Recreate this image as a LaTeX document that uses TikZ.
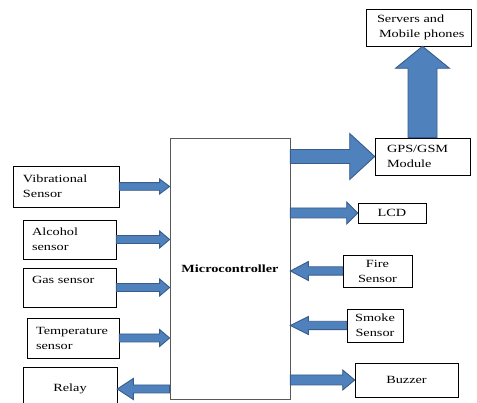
\documentclass[tikz,border=0pt]{standalone}
\usepackage{fontspec}
\setmainfont[FakeStretch=1.3]{Liberation Serif}
\usetikzlibrary{calc}
\definecolor{arrfill}{HTML}{4F81BD}
\definecolor{arrline}{HTML}{385D8A}
% #1 from, #2 to, #3 shaft half width, #4 head half width, #5 head length
\newcommand\barrow[5]{%
  \coordinate (ba) at (#1);
  \coordinate (bb) at (#2);
  \coordinate (bh) at ($(bb)!#5!(ba)$);
  \filldraw[blockarrow] ($(ba)!#3!90:(bb)$) -- ($(bh)!#3!-90:(ba)$) -- ($(bh)!#4!-90:(ba)$) -- (bb)
    -- ($(bh)!#4!90:(ba)$) -- ($(bh)!#3!90:(ba)$) -- ($(ba)!#3!-90:(bb)$) -- cycle;
}
\begin{document}
\begin{tikzpicture}[x=1pt,y=-1pt,
  box/.style={draw=black,line width=0.6pt,inner ysep=0pt,align=left,font=\fontsize{11}{15}\selectfont},
  cbox/.style={box,align=center},
  mcbox/.style={draw=gray!70!black,line width=0.8pt,font=\fontsize{11}{15}\selectfont\bfseries},
  blockarrow/.style={fill=arrfill,draw=arrline,line width=0.9pt,line join=miter}]
\clip (0,0) rectangle (477,403);
\fill[white] (0,0) rectangle (477,403);
% left side
\node[box,text width=86pt,inner xsep=10pt,minimum height=41pt] (vib) at (66,186.5) {\mbox{Vibrational}\\Sensor};
\node[box,text width=75pt,inner xsep=9pt,minimum height=39pt] (alc) at (69.5,239.5) {Alcohol\\sensor};
\node[box,text width=75pt,inner xsep=9pt,minimum height=39pt] (gas) at (69.5,287.5) {\mbox{Gas sensor}\\\mbox{}};
\node[box,text width=74pt,inner xsep=9pt,minimum height=40pt] (temp) at (73,338) {\mbox{Temperature}\\sensor};
\node[cbox,minimum width=94pt,minimum height=44pt] (relay) at (70,389) {Relay};
% microcontroller
\node[mcbox,minimum width=120pt,minimum height=261pt] (mc) at (230,268.5) {Microcontroller};
% right side
\node[box,text width=83pt,inner xsep=11pt,minimum height=37pt] (srv) at (418.5,27.5) {\mbox{Servers and}\\\mbox{\hspace{2pt}Mobile phones}};
\node[box,text width=71pt,inner xsep=12pt,minimum height=37pt] (gps) at (422.5,156.5) {GPS/GSM\\Module};
\node[cbox,minimum width=68pt,minimum height=20pt] (lcd) at (392,213) {LCD};
\node[cbox,minimum width=69pt,minimum height=32pt] (fire) at (377.5,271) {Fire\\Sensor};
\node[cbox,minimum width=56pt,minimum height=33pt] (smoke) at (375,325.5) {Smoke\\Sensor};
\node[cbox,minimum width=103pt,minimum height=34pt] (buzz) at (406.5,380) {Buzzer};
% arrows
\barrow{vib.east}{vib.east -| mc.west}{3.8pt}{7.5pt}{10pt}
\barrow{alc.east}{alc.east -| mc.west}{4pt}{8.5pt}{10pt}
\barrow{gas.east}{gas.east -| mc.west}{4pt}{8.5pt}{10pt}
\barrow{temp.east}{temp.east -| mc.west}{4pt}{8.5pt}{10pt}
\barrow{relay.east -| mc.west}{relay.east}{4pt}{10.5pt}{16pt}
\barrow{mc.east |- gps.west}{gps.west}{7pt}{23pt}{25pt}
\barrow{gps.north}{gps.north |- srv.south}{14.5pt}{27pt}{22pt}
\barrow{mc.east |- lcd.west}{lcd.west}{5pt}{11pt}{11pt}
\barrow{fire.west}{fire.west -| mc.east}{4.2pt}{9.5pt}{18pt}
\barrow{smoke.west}{smoke.west -| mc.east}{4.2pt}{9pt}{18pt}
\barrow{mc.east |- buzz.west}{buzz.west}{5pt}{10pt}{12pt}
\end{tikzpicture}
\end{document}
